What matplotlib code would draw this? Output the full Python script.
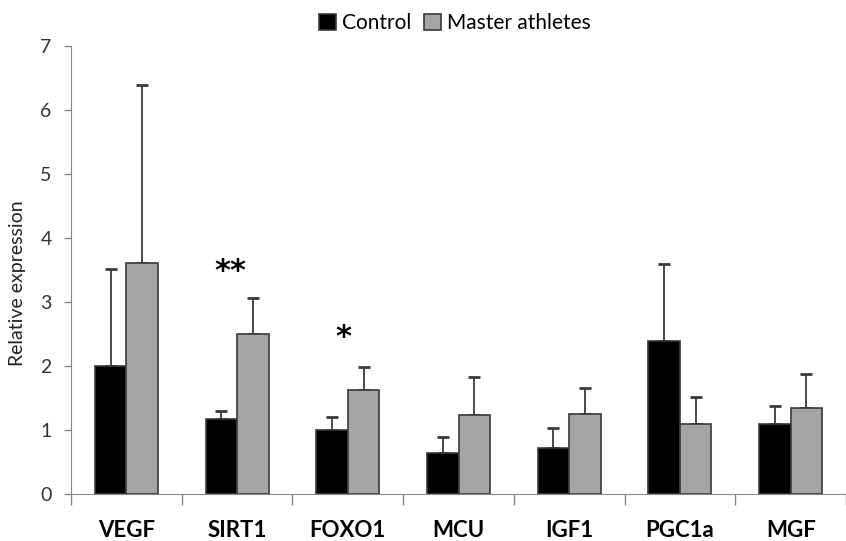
import numpy as np
import matplotlib
matplotlib.use("Agg")
import matplotlib.pyplot as plt

# =====================================
# DATA
# =====================================

genes = ["VEGF", "SIRT1", "FOXO1", "MCU", "IGF1", "PGC1a", "MGF"]

control = [2.00, 1.17, 1.00, 0.64, 0.72, 2.39, 1.10]
control_err = [1.52, 0.13, 0.20, 0.25, 0.31, 1.20, 0.28]

master = [3.61, 2.50, 1.62, 1.23, 1.25, 1.10, 1.35]
master_err = [2.78, 0.56, 0.37, 0.60, 0.41, 0.42, 0.52]

stars = ["**", "*"]
star_x = [0.94, 1.96]
star_y = [3.48, 2.44]

# =====================================
# PLOT
# =====================================

plt.rcParams["font.family"] = ["Lato", "DejaVu Sans"]

fig = plt.figure(figsize=(8.46, 5.41), dpi=100)
ax = fig.add_axes([71/846, 47/541, (846-71)/846, 448/541])

x = np.arange(len(genes))
w = 0.285
edge = "#3a3a3a"

ax.bar(x - w/2, control, w, color="black", edgecolor=edge, linewidth=1.2,
       label="Control", zorder=2)
ax.bar(x + w/2, master, w, color="#a5a5a5", edgecolor=edge, linewidth=1.2,
       label="Master athletes", zorder=2)

ax.errorbar(x - w/2, control, yerr=[np.zeros(len(x)), control_err], fmt="none",
            ecolor=edge, elinewidth=1.3, capsize=4, capthick=2, zorder=1)
ax.errorbar(x + w/2, master, yerr=[np.zeros(len(x)), master_err], fmt="none",
            ecolor=edge, elinewidth=1.3, capsize=4, capthick=2, zorder=1)

for s, sx, sy in zip(stars, star_x, star_y):
    ax.text(sx, sy, s, ha="center", va="center", fontsize=22,
            fontweight="bold", family="DejaVu Sans")

ax.set_ylim(0, 7)
ax.set_xlim(-0.5, -0.5 + (846-71)/112.4)
ax.set_yticks(range(8))
ax.tick_params(axis="y", length=5, width=1, color="#888888", pad=9,
               labelsize=14, labelcolor="#333333")

# boundaries as major ticks, names as minor ticks
ax.set_xticks(np.arange(len(genes) + 1) - 0.5)
ax.set_xticklabels([])
ax.set_xticks(x, minor=True)
ax.set_xticklabels(genes, minor=True, fontsize=16, fontweight="bold")
ax.tick_params(axis="x", which="major", length=8, width=1, color="#888888")
ax.tick_params(axis="x", which="minor", length=0, pad=19)

for side in ["top", "right"]:
    ax.spines[side].set_visible(False)
for side in ["left", "bottom"]:
    ax.spines[side].set_color("#888888")

ax.set_ylabel("Relative expression", fontsize=14, color="#222222")
ax.yaxis.set_label_coords(-0.058, 0.47)

fig.legend(loc="center", bbox_to_anchor=(455/846, 1 - 23/541), ncol=2,
           frameon=False, fontsize=15, handlelength=0.8, handleheight=0.8,
           handletextpad=0.3, columnspacing=0.6)

fig.savefig("out.png", dpi=100)
